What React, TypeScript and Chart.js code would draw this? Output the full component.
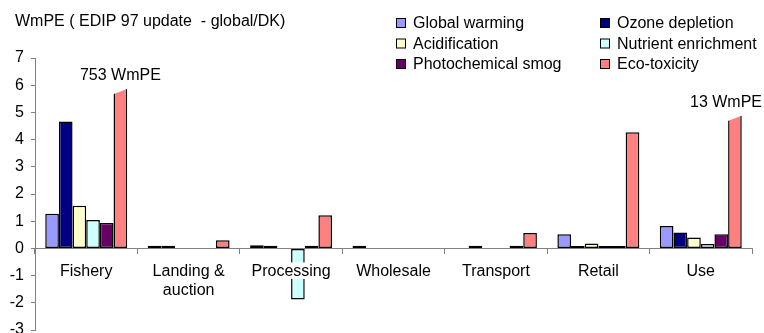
import React, { useEffect, useRef } from 'react';
import { Chart, registerables } from 'chart.js';

Chart.register(...registerables);

// ---- data ----
const titleText = 'WmPE ( EDIP 97 update  - global/DK)';
const categories: (string | string[])[] = ['Fishery', ['Landing &', 'auction'], 'Processing', 'Wholesale', 'Transport', 'Retail', 'Use'];
const seriesNames = ['Global warming', 'Ozone depletion', 'Acidification', 'Nutrient enrichment', 'Photochemical smog', 'Eco-toxicity'];
const globalWarming = [1.27, 0.1, 0.12, 0.1, null, 0.52, 0.82];
const ozoneDepletion = [4.67, 0.1, 0.1, null, 0.1, 0.09, 0.58];
const acidification = [1.57, null, null, null, null, 0.18, 0.4];
const nutrientEnrichment = [1.04, null, -1.88, null, null, 0.09, 0.16];
const photochemicalSmog = [0.93, null, 0.1, null, 0.1, 0.09, 0.52];
const ecoToxicity = [5.93, 0.3, 1.22, null, 0.57, 4.27, 4.95];
// bars whose real value is off the scale (drawn broken with a slanted top)
const ecoBreakLabels = ['753 WmPE', null, null, null, null, null, '13 WmPE'];
const breakDrop = 0.22;
const yTicks = [-3, -2, -1, 0, 1, 2, 3, 4, 5, 6, 7];

// ---- styles ----
const seriesColors = ['#9999FF', '#000080', '#FFFFCC', '#CCFFFF', '#660066', '#FF8080'];
const FONT = "'Liberation Sans', Arial, sans-serif";
const AXIS_GREY = '#808080';

const seriesValues = [globalWarming, ozoneDepletion, acidification, nutrientEnrichment, photochemicalSmog, ecoToxicity];

const overlayPlugin = {
  id: 'overlay',
  afterDatasetsDraw(chart: any) {
    const ctx = chart.ctx;
    const yScale = chart.scales.y;
    const xScale = chart.scales.x;
    const meta = chart.getDatasetMeta(5);
    ctx.save();
    ecoBreakLabels.forEach((lab, i) => {
      if (!lab) return;
      const bar = meta.data[i];
      const { x, y, width } = bar.getProps(['x', 'y', 'width'], true);
      const left = x - width / 2;
      const right = x + width / 2;
      const drop = yScale.getPixelForValue(0) - yScale.getPixelForValue(breakDrop);
      ctx.fillStyle = '#ffffff';
      ctx.beginPath();
      ctx.moveTo(left - 1, y - 3);
      ctx.lineTo(right + 1, y - 3);
      ctx.lineTo(right + 1, y + 1.5);
      ctx.lineTo(left - 1, y + drop + 1.5);
      ctx.closePath();
      ctx.fill();
      ctx.fillStyle = '#000';
      ctx.font = `16px ${FONT}`;
      ctx.textAlign = 'center';
      ctx.textBaseline = 'alphabetic';
      const w = ctx.measureText(lab).width;
      const tx = Math.min(x, chart.width - 2 - w / 2);
      ctx.fillText(lab, tx, y - 7);
    });

    // category labels just under the zero line, drawn over the bars with a white backing
    const y0 = yScale.getPixelForValue(0);
    const lh = 19.5;
    ctx.font = `16px ${FONT}`;
    ctx.textAlign = 'center';
    ctx.textBaseline = 'middle';
    categories.forEach((cat, i) => {
      const lines = Array.isArray(cat) ? cat : [cat];
      const cx = xScale.getPixelForValue(i);
      lines.forEach((line, j) => {
        const top = y0 + 12 + j * lh;
        const w = ctx.measureText(line).width;
        ctx.fillStyle = '#ffffff';
        ctx.fillRect(cx - w / 2 - 1, top + 2, w + 2, lh - 3);
        ctx.fillStyle = '#000';
        ctx.fillText(line, cx, top + lh / 2 + 1);
      });
    });
    ctx.restore();
  },
  afterDraw(chart: any) {
    const ctx = chart.ctx;
    ctx.save();
    ctx.fillStyle = '#000';
    ctx.font = `16px ${FONT}`;
    ctx.textAlign = 'left';
    ctx.textBaseline = 'alphabetic';
    ctx.fillText(titleText, 15, 26);
    // legend: two columns, three rows
    const colX = [396, 600];
    chart.data.datasets.forEach((ds: any, i: number) => {
      const col = i % 2;
      const row = Math.floor(i / 2);
      const bx = colX[col];
      const base = 28 + row * 20.5;
      ctx.fillStyle = ds.backgroundColor;
      ctx.fillRect(bx, base - 10, 10, 10);
      ctx.strokeStyle = '#000';
      ctx.lineWidth = 1;
      ctx.strokeRect(bx + 0.5, base - 9.5, 9, 9);
      ctx.fillStyle = '#000';
      ctx.fillText(ds.label, bx + 17, base);
    });
    ctx.restore();
  },
};

export default function App() {
  const canvasRef = useRef<HTMLCanvasElement | null>(null);

  useEffect(() => {
    const canvas = canvasRef.current;
    if (!canvas) return;
    Chart.defaults.font.family = FONT;
    Chart.defaults.font.size = 16;
    Chart.defaults.color = '#000';
    const chart = new Chart(canvas, {
      type: 'bar',
      data: {
        labels: categories as any,
        datasets: seriesNames.map((name, i) => ({
          label: name,
          data: seriesValues[i] as any,
          backgroundColor: seriesColors[i],
          borderColor: '#000',
          borderWidth: 1.5,
          borderSkipped: false,
          categoryPercentage: 0.8,
          barPercentage: 1.0,
        })),
      },
      options: {
        responsive: false,
        animation: false,
        devicePixelRatio: 1,
        layout: { padding: { top: 58, right: 12, bottom: 3, left: 0 } },
        plugins: {
          legend: { display: false },
          title: { display: false },
          tooltip: { enabled: false },
        },
        scales: {
          x: {
            position: { y: 0 } as any,
            offset: true,
            grid: {
              offset: true,
              drawOnChartArea: false,
              drawTicks: true,
              tickLength: 5,
              color: AXIS_GREY,
            },
            border: { display: true, color: AXIS_GREY, width: 1 },
            ticks: { display: false },
            afterFit: (s: any) => {
              s.paddingLeft = 0;
              s.paddingRight = 0;
            },
          },
          y: {
            position: 'left',
            min: -3,
            max: 7,
            grid: {
              drawOnChartArea: false,
              drawTicks: true,
              tickLength: 4,
              color: AXIS_GREY,
            },
            border: { display: true, color: AXIS_GREY, width: 1 },
            ticks: { padding: 7, font: { size: 16 } },
            afterBuildTicks: (s: any) => {
              s.ticks = yTicks.map((v) => ({ value: v }));
            },
            afterFit: (s: any) => {
              s.width = 35;
              s.paddingTop = 0;
              s.paddingBottom = 0;
            },
          },
        },
      },
      plugins: [overlayPlugin],
    });
    return () => chart.destroy();
  }, []);

  return (
    <div style={{ position: 'fixed', left: 0, top: 0, width: 764, height: 333, background: '#fff' }}>
      <canvas ref={canvasRef} width={764} height={333} style={{ width: 764, height: 333, display: 'block' }} />
    </div>
  );
}
